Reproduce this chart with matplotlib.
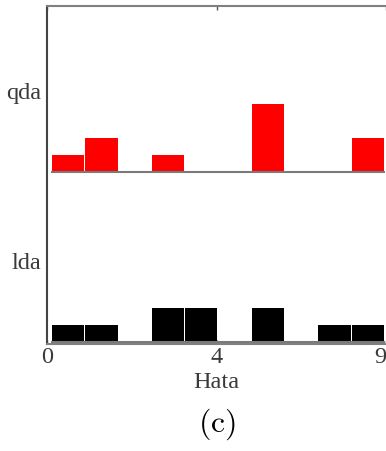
import numpy as np
import matplotlib
matplotlib.use('Agg')
import matplotlib.pyplot as plt

plt.rcParams['mathtext.fontset'] = 'cm'
plt.rcParams['font.family'] = ['Liberation Serif', 'DejaVu Serif']

# error values (Hata) per run for each classifier
methods = ['lda', 'qda']
lda_err = [0, 1, 3, 3, 4, 4, 6, 6, 8, 9]
qda_err = [0, 1, 1, 3, 6, 6, 6, 6, 9, 9]
colors = ['black', 'red']
xtick_labels = ['0', '4', '9']
n_bins = 10

fig = plt.figure(figsize=(3.86, 4.52), dpi=100)
ax = fig.add_axes([47 / 386, 107.5 / 452, 339 / 386, 338 / 452])

lo, hi = 0, 9
bins = np.linspace(lo, hi, n_bins + 1)
width = bins[1] - bins[0]
for i, (vals, c) in enumerate(zip([lda_err, qda_err], colors)):
    counts, _ = np.histogram(vals, bins=bins)
    h = counts / len(vals)
    keep = counts > 0
    ax.bar(bins[:-1][keep] + width / 2, h[keep], width=width * 0.97,
           bottom=i, color=c, linewidth=0, zorder=2)
    ax.hlines(i, lo, hi, color='#7a7a7a', linewidth=1.5, zorder=3)

xlo = lo - 0.12
xhi = hi + 0.04
ax.set_xlim(xlo, xhi)
ax.set_ylim(-0.0106, 1.977)

ax.set_xticks([xlo, (xlo + xhi) / 2, xhi])
ax.set_xticklabels(xtick_labels, fontsize=17.5, color='#3a3a3a')
ax.get_xticklabels()[-1].set_ha('right')
ax.tick_params(axis='x', direction='in', length=3, width=1, color='#555555',
               top=True, pad=2)

ax.set_yticks(np.arange(len(methods)) + 0.432)
ax.set_yticklabels(methods, fontsize=17.5, color='#3a3a3a')
for lbl in ax.get_yticklabels():
    lbl.set_va('baseline')
ax.tick_params(axis='y', length=0, pad=4)

ax.spines['right'].set_visible(False)
ax.spines['left'].set_color('#444444')
ax.spines['left'].set_linewidth(1.5)
for s in ['top', 'bottom']:
    ax.spines[s].set_color('#808080')
    ax.spines[s].set_linewidth(1.5)

ax.set_xlabel('Hata', fontsize=17.5, color='#3a3a3a', labelpad=3)
fig.text(216.5 / 386, 1 - 424 / 452, '$\\mathrm{(c)}$', fontsize=23,
         ha='center', va='center', color='black')

fig.savefig('out.png', dpi=100)
